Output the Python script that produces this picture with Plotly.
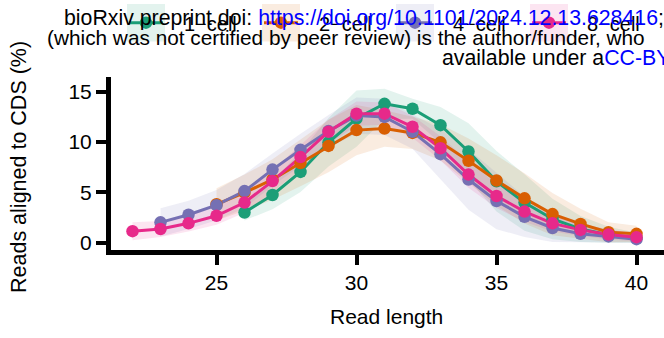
import plotly.graph_objects as go

# Read-length distribution (% of reads aligned to CDS), mean and spread per stage
len_1cell = list(range(26, 41))
pct_1cell = [3.01, 4.74, 7.03, 9.97, 12.32, 13.79, 13.30, 11.67, 9.06, 6.10, 3.99, 2.36, 1.37, 0.80, 0.50]
sd_1cell = [0.8, 1.4, 2.0, 2.4, 2.8, 1.5, 1.0, 1.8, 2.8, 3.0, 2.8, 2.0, 1.3, 0.8, 0.5]

len_2cell = list(range(25, 41))
pct_2cell = [3.82, 4.97, 6.28, 7.91, 9.61, 11.18, 11.34, 10.90, 9.97, 8.14, 6.18, 4.41, 2.85, 1.87, 1.05, 0.89]
sd_2cell = [1.6, 1.8, 2.0, 2.3, 2.6, 2.5, 1.8, 1.6, 1.8, 2.2, 2.5, 2.5, 2.1, 1.5, 1.0, 0.8]

len_4cell = list(range(23, 41))
pct_4cell = [2.03, 2.78, 3.73, 5.13, 7.26, 9.22, 11.08, 12.62, 12.49, 11.02, 8.79, 6.28, 4.15, 2.58, 1.47, 0.89, 0.63, 0.36]
sd_4cell = [1.4, 1.4, 1.5, 1.7, 1.6, 1.6, 1.6, 1.8, 1.8, 1.7, 2.5, 3.0, 2.8, 2.0, 1.4, 1.0, 0.7, 0.5]

len_8cell = list(range(22, 41))
pct_8cell = [1.15, 1.37, 1.93, 2.68, 3.99, 6.12, 8.50, 11.02, 12.81, 12.81, 11.51, 9.38, 6.77, 4.64, 3.10, 1.93, 1.28, 0.82, 0.56]
sd_8cell = [0.9, 0.8, 0.8, 0.9, 1.0, 1.1, 1.2, 1.2, 1.2, 1.1, 1.1, 1.2, 1.3, 1.2, 1.0, 0.8, 0.6, 0.5, 0.4]

stage_names = ["1\u2212cell", "2\u2212cell", "4\u2212cell", "8\u2212cell"]
stage_colors = ["#1B9E77", "#D95F02", "#7570B3", "#E7298A"]
x_ticks = [25, 30, 35, 40]
y_ticks = [0, 5, 10, 15]

series = [
    (len_1cell, pct_1cell, sd_1cell),
    (len_2cell, pct_2cell, sd_2cell),
    (len_4cell, pct_4cell, sd_4cell),
    (len_8cell, pct_8cell, sd_8cell),
]

W, H = 664, 338
FONT = "Liberation Sans, Arial, sans-serif"


def px(x):
    return x / W


def py(y):
    return 1 - y / H


def rgba(hex_color, a):
    h = hex_color.lstrip("#")
    r, g, b = int(h[0:2], 16), int(h[2:4], 16), int(h[4:6], 16)
    return f"rgba({r},{g},{b},{a})"


fig = go.Figure()

# ribbons (mean +/- spread)
for (xs, ys, sds), name, col in zip(series, stage_names, stage_colors):
    upper = [y + s for y, s in zip(ys, sds)]
    lower = [max(y - s, 0) for y, s in zip(ys, sds)]
    fig.add_trace(go.Scatter(
        x=xs + xs[::-1], y=upper + lower[::-1],
        fill="toself", fillcolor=rgba(col, 0.12),
        line=dict(width=0), mode="lines", hoverinfo="skip", showlegend=False,
    ))

# lines
for (xs, ys, sds), name, col in zip(series, stage_names, stage_colors):
    fig.add_trace(go.Scatter(
        x=xs, y=ys, mode="lines", line=dict(color=col, width=3),
        showlegend=False, name=name,
    ))

# points
for (xs, ys, sds), name, col in zip(series, stage_names, stage_colors):
    fig.add_trace(go.Scatter(
        x=xs, y=ys, mode="markers", marker=dict(color=col, size=12.5, line=dict(width=0)),
        showlegend=False, name=name, cliponaxis=False,
    ))

# plot area geometry (pixels)
LW = 4.5
left, right, top, bottom = 110.75, 664, 78, 252.75
x_at_25, x_per_unit = 216.5, 28.0
y_at_0, y_per_unit = 245.7, 10.2
x_range = [25 + (left - x_at_25) / x_per_unit, 25 + (right - x_at_25) / x_per_unit]
y_range = [(y_at_0 - bottom) / y_per_unit, (y_at_0 - top) / y_per_unit]

axis_common = dict(
    showline=True, linecolor="black", linewidth=LW, showgrid=False, zeroline=False,
    ticks="outside", ticklen=10, tickwidth=4, tickcolor="black",
    tickfont=dict(family=FONT, size=21, color="black"),
)

fig.update_layout(
    width=W, height=H, autosize=False,
    margin=dict(l=0, r=0, t=0, b=0),
    paper_bgcolor="white", plot_bgcolor="white",
    showlegend=False,
    xaxis=dict(domain=[px(left), 1], range=x_range, tickvals=x_ticks, **axis_common),
    yaxis=dict(domain=[py(bottom), py(top)], range=y_range, tickvals=y_ticks, **axis_common),
)

shapes = []
annotations = []

# legend keys
key_starts = [127, 262, 396, 530]
key_w, key_cy = 38, 23
for x0, name, col in zip(key_starts, stage_names, stage_colors):
    shapes.append(dict(type="rect", xref="paper", yref="paper",
                       x0=px(x0), x1=px(x0 + key_w), y0=py(key_cy + key_w / 2), y1=py(key_cy - key_w / 2),
                       fillcolor=rgba(col, 0.12), line=dict(width=0), layer="above"))
    shapes.append(dict(type="line", xref="paper", yref="paper",
                       x0=px(x0 + 2), x1=px(x0 + key_w - 2), y0=py(key_cy), y1=py(key_cy),
                       line=dict(color=col, width=3), layer="above"))
    r = 6.25
    cx = x0 + key_w / 2
    shapes.append(dict(type="circle", xref="paper", yref="paper",
                       x0=px(cx - r), x1=px(cx + r), y0=py(key_cy + r), y1=py(key_cy - r),
                       fillcolor=col, line=dict(width=0), layer="above"))
    annotations.append(dict(text=name, xref="paper", yref="paper",
                            x=px(x0 + key_w + 17), y=py(24), xanchor="left", yanchor="middle",
                            showarrow=False, font=dict(family=FONT, size=20, color="black")))

# axis titles
annotations.append(dict(text="Read length", xref="paper", yref="paper",
                        x=px(386), y=py(320), xanchor="center", yanchor="middle",
                        showarrow=False, font=dict(family=FONT, size=21, color="black")))
annotations.append(dict(text="Reads aligned to CDS (%)", xref="paper", yref="paper",
                        x=px(19), y=py(169), xanchor="center", yanchor="middle", textangle=-90,
                        showarrow=False, font=dict(family=FONT, size=21.5, color="black")))

# preprint header lines
blue = "#0000FF"
header = [
    ("bioRxiv preprint doi: <span style='color:%s'>https://doi.org/10.1101/2024.12.13.628416</span>;" % blue, 62, 17.8, 21.3),
    ("(which was not certified by peer review) is the author/funder, who", 45, 37.8, 20.8),
    ("available under a<span style='color:%s'>CC-BY</span>" % blue, 440, 58.8, 21.3),
]
for txt, x0, yc, fs in header:
    annotations.append(dict(text=txt, xref="paper", yref="paper",
                            x=px(x0), y=py(yc), xanchor="left", yanchor="middle",
                            showarrow=False, font=dict(family=FONT, size=fs, color="black")))

fig.update_layout(shapes=shapes, annotations=annotations)

fig.write_html("out.html")
